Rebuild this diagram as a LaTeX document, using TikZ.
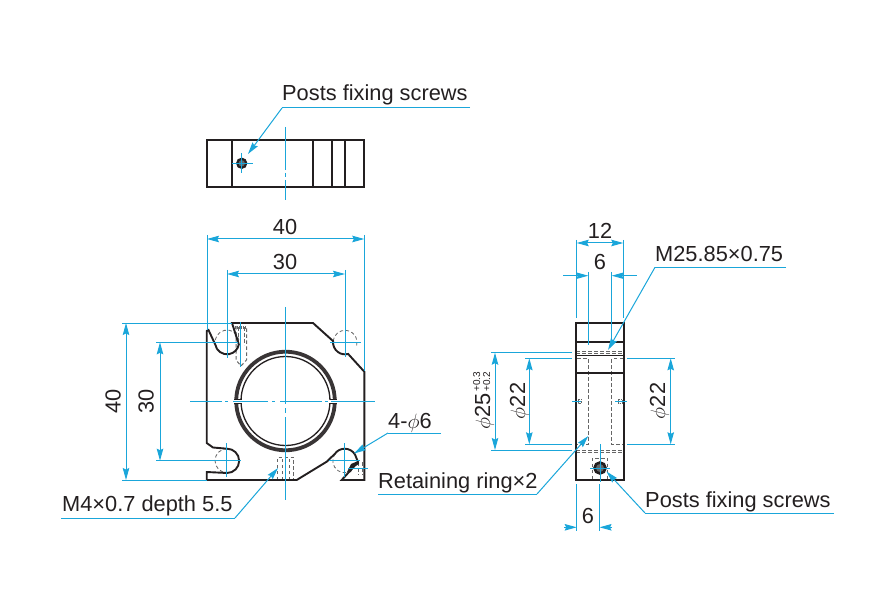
\documentclass[tikz,border=0pt]{standalone}
\usepackage{fontspec}
\setmainfont{Liberation Sans}
\usetikzlibrary{arrows.meta}
\definecolor{dimblue}{HTML}{1AA6DA}
\definecolor{inkblack}{HTML}{231F20}
\definecolor{hidegray}{HTML}{666666}
\tikzset{
label/.style={text=inkblack,inner sep=0pt,font=\fontsize{21.8}{24}\selectfont},
tinylabel/.style={text=inkblack,inner sep=0pt,font=\fontsize{10}{12}\selectfont},
blue/.style={draw=dimblue,line width=1pt},
dim/.style={blue,{Stealth[length=12pt,width=6.5pt,inset=1.5pt]}-{Stealth[length=12pt,width=6.5pt,inset=1.5pt]}},
leader/.style={blue,-{Stealth[length=12pt,width=6.5pt,inset=1.5pt]}},
body/.style={draw=inkblack,line width=1.9pt,line join=miter},
thin body/.style={draw=inkblack,line width=1pt},
hidden/.style={draw=hidegray,line width=1pt,dash pattern=on 3.5pt off 2.5pt},
}
\begin{document}
\begin{tikzpicture}[x=1pt,y=-1pt]
\useasboundingbox (0,0) rectangle (888,609);

% named ends of the connectors
\coordinate (a1) at (207,239);
\coordinate (a2) at (364.3,239);
\coordinate (b1) at (227,274);
\coordinate (b2) at (345,274);
\coordinate (c1) at (126,323);
\coordinate (c2) at (126,480);
\coordinate (d1) at (160,342.3);
\coordinate (d2) at (160,460.7);
\coordinate (e1) at (576.7,243);
\coordinate (e2) at (623.3,243);
\coordinate (f1) at (495,352.7);
\coordinate (f2) at (495,450);
\coordinate (g1) at (529.3,358.3);
\coordinate (g2) at (529.3,444.3);
\coordinate (h1) at (670.7,358.3);
\coordinate (h2) at (670.7,444.3);

% top view
\draw[body] (207,140) rectangle (364.3,187);
\foreach \x in {232,313,332,345}
	\draw[body,line width=1.5pt] (\x,140) -- (\x,187);
\node[circle,draw=inkblack,line width=2.2pt,fill=hidegray,minimum size=9pt,inner sep=0pt] (topscrew) at (241.7,163.3) {};
\draw[blue] (232,163.3) -- (253,163.3);
\draw[blue] (241.7,153) -- (241.7,173);
\draw[blue] (285.5,127) -- (285.5,170);
\draw[blue] (285.5,173) -- (285.5,177);
\draw[blue] (285.5,180) -- (285.5,200);

% front view, hidden parts first
\draw[hidden,line width=0.8pt] (215.2,340) arc[start angle=170,end angle=10,radius=12pt];
\draw[hidden,line width=0.8pt] (227,448.7) arc[start angle=90,end angle=270,radius=12pt];
\draw[hidden,line width=0.8pt] (333.1,341.1) arc[start angle=174,end angle=-15,radius=12pt];
\draw[hidden,line width=0.8pt] (334.9,453.8) arc[start angle=145,end angle=290,radius=12pt];
\draw[hidden] (236,326) -- (236,360) -- (241,366) -- (246.5,360) -- (246.5,326);
\draw[hidden,line width=0.8pt] (238.5,327) -- (238.5,345);
\draw[hidden,line width=0.8pt] (244,327) -- (244,345);
\draw[hidegray,line width=3pt,dash pattern=on 1pt off 1pt] (235,327) -- (247,327);
\draw[hidden] (277.7,480) -- (277.7,457) -- (293.3,457) -- (293.3,480);
\draw[hidden,line width=0.8pt] (282,480) -- (282,458);
\draw[hidden,line width=0.8pt] (289,480) -- (289,458);
\draw[hidden,line width=0.8pt] (358,462) -- (358,475);
\draw[hidden,line width=0.8pt] (362,462) -- (362,475);

\draw[body] (232,323) -- (313,323) -- (333.1,341.1)
	arc[start angle=174,end angle=285,radius=12pt] -- (364.3,371.7)
	-- (364.3,480) -- (341.7,480) -- (349,472) -- (358,462) -- (355.1,454.7)
	arc[start angle=30,end angle=145,radius=12pt]
	-- (326.7,461.7) -- (296.7,480) -- (206.7,480) -- (206.7,472) -- (227,473)
	arc[start angle=-90,end angle=90,radius=12.15pt]
	-- (213,447.5) -- (206.7,443) -- (206.7,331) -- (208.5,330) -- (215.2,344.4)
	arc[start angle=190,end angle=350,radius=12pt] -- cycle;

% ring of the front view
\draw[inkblack!90,line width=3.8pt] (285.5,401) circle (49.3pt);
\draw[inkblack,line width=1.3pt] (285.5,401) circle (44.5pt);
\fill[white] (233,399.7) rectangle (243,402.8);
\fill[white] (328,399.7) rectangle (338,402.8);
\draw[thin body] (234,399.2) -- (241.5,399.2);
\draw[thin body] (234,403.3) -- (241.5,403.3);
\draw[thin body] (329.5,399.2) -- (337,399.2);
\draw[thin body] (329.5,403.3) -- (337,403.3);

% set screw at the lower right corner
\fill[inkblack] (347,472) -- (351,464) -- (358,461) -- (359,464) -- (353,467.5) -- (351,472) -- cycle;

% centre lines of the front view
\draw[blue] (190,401) -- (222,401);
\draw[blue] (225,401) -- (228,401);
\draw[blue] (233,401) -- (268,401);
\draw[blue] (272,401) -- (275,401);
\draw[blue] (280,401) -- (322,401);
\draw[blue] (325,401) -- (328,401);
\draw[blue] (331,401) -- (375,401);
\draw[blue] (285.5,307) -- (285.5,404);
\draw[blue] (285.5,408) -- (285.5,413);
\draw[blue] (285.5,417) -- (285.5,500);
\draw[blue] (240.7,322) -- (240.7,367);
\draw[blue] (330,342.3) -- (361,342.3);
\draw[blue] (329,460.7) -- (360,460.7);
\draw[blue] (226.7,443) -- (226.7,477);
\draw[blue] (344.7,443) -- (344.7,477);
\draw[blue] (348,468) -- (368,468);

% extension lines of the front view
\draw[blue] (207,235) -- (207,330);
\draw[blue] (364.3,235) -- (364.3,371);
\draw[blue] (227,270) -- (227,358);
\draw[blue] (345,270) -- (345,357);
\draw[blue] (122,323) -- (232,323);
\draw[blue] (122,480) -- (207,480);
\draw[blue] (156,342.3) -- (238,342.3);
\draw[blue] (156,460.7) -- (241,460.7);

\draw[dim] (a1) -- (a2);
\draw[dim] (b1) -- (b2);
\draw[dim] (c1) -- (c2);
\draw[dim] (d1) -- (d2);

\node[label,anchor=base] (w40) at (285,235) {40};
\node[label,anchor=base] (w30) at (285,270) {30};
\node[label,anchor=base,rotate=90] (h40) at (120.5,401) {40};
\node[label,anchor=base,rotate=90] (h30) at (153.5,401) {30};

% side view
\draw[hidden,line width=0.9pt] (576,351) -- (624,351);
\draw[hidden,line width=0.9pt] (576,353.5) -- (624,353.5);
\draw[hidden] (577,358.5) -- (588.3,358.5) -- (588.3,444.5) -- (577,444.5);
\draw[hidden] (623,358.5) -- (611.7,358.5) -- (611.7,444.5) -- (623,444.5);
\draw[hidden,line width=0.9pt] (576,450) -- (624,450);
\draw[hidden,line width=0.9pt] (576,452.8) -- (624,452.8);
\draw[hidden,line width=0.8pt] (592,479) -- (592,458) -- (607.5,458) -- (607.5,479);
\draw[hidden,line width=0.8pt,dash pattern=on 1.5pt off 1pt] (578,399) rectangle (581,403);
\draw[hidden,line width=0.8pt,dash pattern=on 1.5pt off 1pt] (618.5,399) rectangle (622.5,403);
\draw[body] (576,322.7) rectangle (624,480);
\draw[body] (576,341.7) -- (624,341.7);
\draw[body] (576,373.3) -- (624,373.3);
\draw[thin body] (576,355.5) -- (624,355.5);
\node[circle,draw=inkblack,line width=2.6pt,fill=hidegray,minimum size=11pt,inner sep=0pt] (sidescrew) at (600,468) {};

\draw[blue] (590,468) -- (610,468);
\draw[blue] (600,444) -- (600,482);
\draw[blue] (572,401) -- (581,401);
\draw[blue] (615,401) -- (627,401);

% extension lines of the side view
\draw[blue] (576.7,240) -- (576.7,318);
\draw[blue] (623.3,240) -- (623.3,318);
\draw[blue] (588.3,272) -- (588.3,345);
\draw[blue] (611.7,272) -- (611.7,343);
\draw[blue] (491,352.7) -- (572,352.7);
\draw[blue] (491,450) -- (572,450);
\draw[blue] (525,358.3) -- (572,358.3);
\draw[blue] (525,444.3) -- (572,444.3);
\draw[blue] (627,358.3) -- (675,358.3);
\draw[blue] (627,444.3) -- (675,444.3);
\draw[blue] (576.7,484) -- (576.7,531);
\draw[blue] (599.5,484) -- (599.5,531);

\coordinate (six1) at (563,275.7);
\coordinate (six2) at (588.3,275.7);
\coordinate (six3) at (636.7,275.7);
\coordinate (six4) at (611.7,275.7);
\coordinate (low1) at (564,527.3);
\coordinate (low2) at (576.7,527.3);
\coordinate (low3) at (612,527.3);
\coordinate (low4) at (599.5,527.3);

\draw[dim] (e1) -- (e2);
\draw[leader] (six1) -- (six2);
\draw[leader] (six3) -- (six4);
\draw[leader] (low1) -- (low2);
\draw[leader] (low3) -- (low4);
\draw[dim] (f1) -- (f2);
\draw[dim] (g1) -- (g2);
\draw[dim] (h1) -- (h2);

\node[label,anchor=base] (w12) at (600,238.3) {12};
\node[label,anchor=base] (w6) at (600,270) {6};
\node[label,anchor=base] (w6b) at (588,523) {6};
\node[label,anchor=base east,rotate=90] (h25) at (490,393) {$\phi$25};
\node[tinylabel,anchor=base west,rotate=90] (h25a) at (480,392) {+0.3};
\node[tinylabel,anchor=base west,rotate=90] (h25b) at (490,392) {+0.2};
\node[label,anchor=base,rotate=90] (h22a) at (525,401) {$\phi$22};
\node[label,anchor=base,rotate=90] (h22b) at (665,401) {$\phi$22};

% leaders
\node[label,anchor=base west] (topname) at (282,101) {Posts fixing screws};
\coordinate (topknee) at (282,108);
\coordinate (topend) at (470,108);
\coordinate (toptip) at (248,154);
\draw[blue] (topend) -- (topknee);
\draw[leader] (topknee) -- (toptip);

\node[label,anchor=base west] (threadname) at (655,261.7) {M25.85×0.75};
\coordinate (threadknee) at (655,267.3);
\coordinate (threadend) at (786,267.3);
\coordinate (threadtip) at (608,350);
\draw[blue] (threadend) -- (threadknee);
\draw[leader] (threadknee) -- (threadtip);

\node[label,anchor=base west] (holename) at (388,428) {4-$\phi$6};
\coordinate (holeknee) at (388,433);
\coordinate (holeend) at (441,433);
\coordinate (holetip) at (354,453.5);
\draw[blue] (holeend) -- (holeknee);
\draw[leader] (holeknee) -- (holetip);

\node[label,anchor=base west] (ringname) at (378,488) {Retaining ring×2};
\coordinate (ringstart) at (378,494);
\coordinate (ringknee) at (537,494);
\coordinate (ringtip) at (588.3,436);
\draw[blue] (ringstart) -- (ringknee);
\draw[leader] (ringknee) -- (ringtip);

\node[label,anchor=base west] (sidename) at (645,507) {Posts fixing screws};
\coordinate (sideknee) at (645,513);
\coordinate (sideend) at (834,513);
\coordinate (sidetip) at (606.5,471.5);
\draw[blue] (sideend) -- (sideknee);
\draw[leader] (sideknee) -- (sidetip);

\node[label,anchor=base west] (tapname) at (62,511.7) {M4×0.7 depth 5.5};
\coordinate (tapstart) at (61,518);
\coordinate (tapknee) at (235,518);
\coordinate (taptip) at (278,468);
\draw[blue] (tapstart) -- (tapknee);
\draw[leader] (tapknee) -- (taptip);
\end{tikzpicture}
\end{document}
